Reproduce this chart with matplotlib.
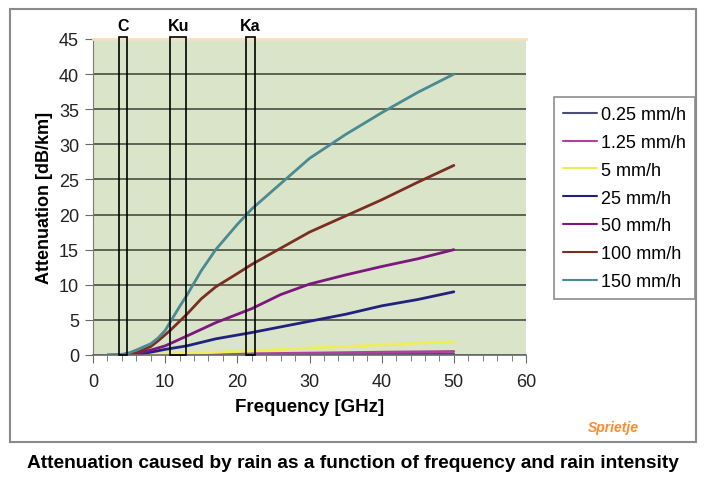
import numpy as np
import matplotlib.pyplot as plt
from matplotlib.patches import Rectangle
from matplotlib.ticker import MultipleLocator

plt.rcParams['font.family'] = ['Liberation Sans', 'DejaVu Sans']

# Data (frequency in GHz, attenuation in dB/km)
labels = ['0.25 mm/h', '1.25 mm/h', '5 mm/h', '25 mm/h', '50 mm/h', '100 mm/h', '150 mm/h']
colors = ['#4c4c78', '#b0409c', '#eeee5a', '#22227e', '#7e1680', '#7a2e22', '#4a8a92']

f_025 = [2, 5, 10, 20, 30, 40, 50]
a_025 = [0.0, 0.0, 0.02, 0.04, 0.07, 0.09, 0.12]
f_125 = [4, 5, 10, 20, 30, 40, 50]
a_125 = [0.0, 0.02, 0.06, 0.15, 0.27, 0.4, 0.5]
f_5 = [4, 5, 10, 15, 20, 25, 30, 35, 40, 45, 50]
a_5 = [0.0, 0.05, 0.15, 0.3, 0.5, 0.75, 1.0, 1.2, 1.45, 1.7, 1.9]
f_25 = [5, 6, 8, 10, 13, 17, 22, 26, 30, 35, 40, 45, 50]
a_25 = [0.0, 0.1, 0.4, 0.8, 1.3, 2.3, 3.2, 4.0, 4.8, 5.8, 7.0, 7.9, 9.0]
f_50 = [5, 6, 8, 10, 13, 17, 22, 26, 30, 35, 40, 45, 50]
a_50 = [0.0, 0.2, 0.7, 1.3, 2.7, 4.6, 6.6, 8.6, 10.1, 11.4, 12.6, 13.7, 15.0]
f_100 = [5, 6, 8, 9, 10.7, 13, 15, 17, 20, 22, 26, 30, 35, 40, 45, 50]
a_100 = [0.0, 0.3, 1.2, 2.0, 3.5, 5.8, 8.0, 9.7, 11.6, 12.9, 15.2, 17.5, 19.8, 22.1, 24.6, 27.0]
f_150 = [2, 4, 5, 6, 8, 9, 10, 11, 12, 13, 15, 17, 20, 22, 25, 30, 35, 40, 45, 50]
a_150 = [0.0, 0.1, 0.3, 0.7, 1.6, 2.4, 3.5, 5.2, 6.9, 8.5, 12.0, 15.0, 18.6, 20.8, 23.5, 28.0, 31.4, 34.5, 37.4, 40.0]

freqs = [f_025, f_125, f_5, f_25, f_50, f_100, f_150]
atts = [a_025, a_125, a_5, a_25, a_50, a_100, a_150]

# Frequency bands (GHz)
band_names = ['C', 'Ku', 'Ka']
band_lo = [3.6, 10.7, 21.2]
band_hi = [4.7, 12.9, 22.4]

fig = plt.figure(figsize=(7.07, 4.89), dpi=100)
fig.patch.set_facecolor('white')

# outer frame around the chart
frame = Rectangle((10 / 707, 1 - 443 / 489), 686 / 707, 433 / 489, transform=fig.transFigure,
                  facecolor='none', edgecolor='#8a8a8a', linewidth=1.5)
fig.patches.append(frame)

ax = fig.add_axes([93 / 707, 1 - 356 / 489, 433 / 707, 316 / 489])
ax.set_facecolor('#d9e4c9')
ax.set_xlim(0, 60)
ax.set_ylim(0, 45)
ax.xaxis.set_major_locator(MultipleLocator(10))
ax.xaxis.set_minor_locator(MultipleLocator(2))
ax.yaxis.set_major_locator(MultipleLocator(5))
ax.grid(axis='y', color='#5e6252', linewidth=1.4)
ax.set_axisbelow(True)

ax.spines['right'].set_visible(False)
ax.spines['top'].set_color('#f0e2bc')
ax.spines['top'].set_linewidth(2)
ax.spines['left'].set_color('#7a7a7a')
ax.spines['bottom'].set_color('#6a6a6a')
ax.spines['bottom'].set_linewidth(1.2)
ax.tick_params(axis='both', which='both', direction='out', color='#6a6a6a')
ax.tick_params(axis='x', which='major', length=6, labelsize=13, labelcolor='#222222', pad=7)
ax.tick_params(axis='x', which='minor', length=4)
ax.tick_params(axis='y', which='major', length=6, labelsize=13, labelcolor='#222222', pad=4)

for f, a, c, lab in zip(freqs, atts, colors, labels):
    ax.plot(f, a, color=c, linewidth=2, label=lab, solid_capstyle='round')

for name, lo, hi in zip(band_names, band_lo, band_hi):
    ax.add_patch(Rectangle((lo, 0), hi - lo, 45.3, facecolor='none', edgecolor='black',
                           linewidth=1.2, clip_on=False, zorder=5))
    ax.text((lo + hi) / 2, 45.8, name, ha='center', va='bottom', fontsize=11.5,
            fontweight='bold')

ax.set_xlabel('Frequency [GHz]', fontsize=13.5, fontweight='bold', labelpad=6)
ax.set_ylabel('Attenuation [dB/km]', fontsize=13, fontweight='bold', labelpad=4)

leg = ax.legend(loc='upper left', bbox_to_anchor=(554 / 707, 1 - 98 / 489), bbox_transform=fig.transFigure,
                fontsize=13, frameon=True, fancybox=False, edgecolor='#707070',
                handlelength=1.9, handletextpad=0.2, labelspacing=0.6, borderpad=0.5,
                borderaxespad=0)
leg.get_frame().set_linewidth(1.2)
for line in leg.get_lines():
    line.set_linewidth(1.5)

fig.text(613 / 707, 1 - 428 / 489, 'Sprietje', color='#ff8a2a', fontsize=10,
         fontweight='bold', style='italic', ha='center', va='center')
fig.text(353 / 707, 1 - 464 / 489,
         'Attenuation caused by rain as a function of frequency and rain intensity',
         fontsize=13.8, fontweight='bold', ha='center', va='center')

fig.savefig('out.png', dpi=100)
